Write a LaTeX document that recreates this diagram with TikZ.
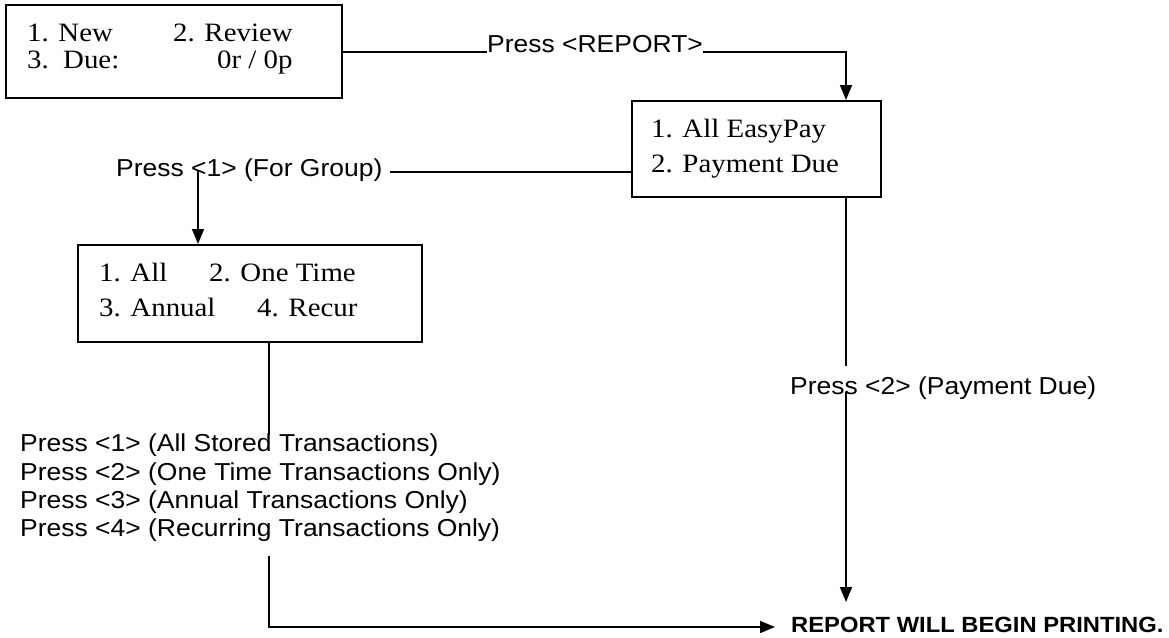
\documentclass[tikz,border=0pt]{standalone}
\usepackage{fontspec}
\usetikzlibrary{arrows.meta}
\newfontfamily\tnr[FakeStretch=1.09]{Liberation Serif}
\newfontfamily\ari[FakeStretch=1.08]{Liberation Sans}
\tikzset{
  box/.style={draw, line width=1.6pt, inner sep=0pt, anchor=north west},
  serif/.style={font=\tnr\fontsize{26.5}{30}\selectfont, inner sep=0pt, anchor=base west},
  sans/.style={font=\ari\fontsize{24.5}{28}\selectfont, inner sep=0pt, anchor=base west},
  bold/.style={font=\ari\bfseries\fontsize{22}{26}\selectfont, inner sep=0pt, anchor=base west},
  link/.style={line width=1.6pt},
  flow/.style={link, -{Triangle[length=15pt,width=12pt]}}
}
\begin{document}
\begin{tikzpicture}[x=1pt,y=-1pt]
\useasboundingbox (0,0) rectangle (1169,637);

% menu boxes
\node[box, minimum width=336pt, minimum height=93pt] (boxA) at (5,4) {};
\node[box, minimum width=249pt, minimum height=96pt] (boxB) at (631,100) {};
\node[box, minimum width=344pt, minimum height=97pt] (boxC) at (77,244) {};

% box texts
\node[serif] (a1) at (27,41.7) {1. New};
\node[serif] (a2) at (173,41.7) {2. Review};
\node[serif] (a3) at (27,68.3) {3.};
\node[serif] (a3b) at (63,68.3) {Due:};
\node[serif] (a4) at (217,68.3) {0r / 0p};

\node[serif] (b1) at (651,137) {1. All EasyPay};
\node[serif] (b2) at (651,172) {2. Payment Due};

\node[serif] (c1) at (99,281) {1. All};
\node[serif] (c2) at (209,281) {2. One Time};
\node[serif] (c3) at (99,316) {3. Annual};
\node[serif] (c4) at (257,316) {4. Recur};

% key-press labels
\node[sans] (lblReport) at (487,52) {Press <REPORT>};
\node[sans] (lblGroup) at (116,176) {Press <1> (For Group)};
\node[sans] (lblDue) at (790,394) {Press <2> (Payment Due)};
\node[sans] (t1) at (20,451.7) {Press <1> (All Stored Transactions)};
\node[sans] (t2) at (20,480) {Press <2> (One Time Transactions Only)};
\node[sans] (t3) at (20,508.3) {Press <3> (Annual Transactions Only)};
\node[sans] (t4) at (20,536.7) {Press <4> (Recurring Transactions Only)};
\node[bold] (rpt) at (791,632) {REPORT WILL BEGIN PRINTING.};

% routing points
\coordinate (bx) at (846,0);
\coordinate (cx) at (269,0);
\coordinate (gL) at (390,172);
\coordinate (gD) at (198,170);
\coordinate (pUp) at (846,366);
\coordinate (pDn) at (846,392);
\coordinate (pTip) at (846,602);
\coordinate (cUp) at (269,435);
\coordinate (cDn) at (269,556);
\coordinate (rTip) at (775,627);

% connectors
\draw[link] (boxA.east |- lblReport.base) -- (lblReport.base west);
\draw[flow] (lblReport.base east) -| (bx |- boxB.north);
\draw[link] (boxB.west |- gL) -- (gL);
\draw[flow] (gD) -- (gD |- boxC.north);
\draw[link] (bx |- boxB.south) -- (pUp);
\draw[flow] (pDn) -- (pTip);
\draw[link] (cx |- boxC.south) -- (cUp);
\draw[flow] (cDn) |- (rTip);
\end{tikzpicture}
\end{document}
